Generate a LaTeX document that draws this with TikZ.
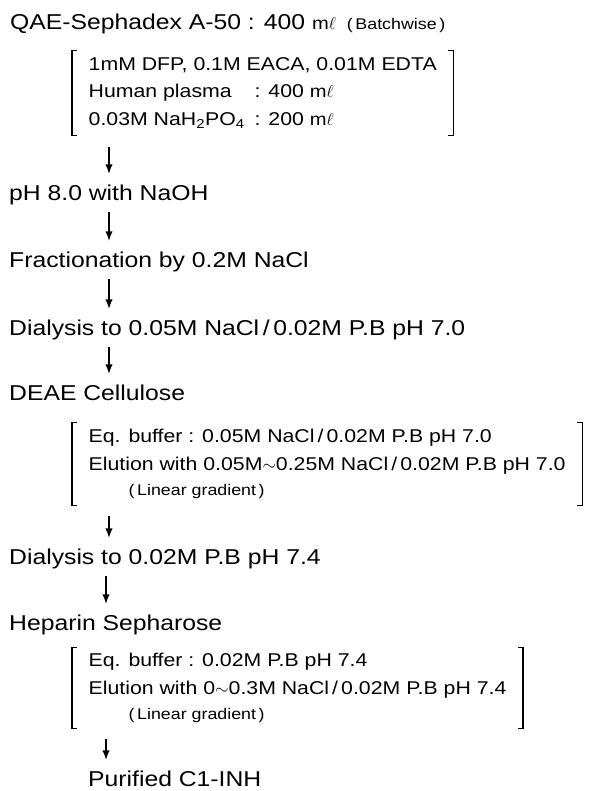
\documentclass[tikz,border=0pt]{standalone}
\usepackage{fontspec}
\setmainfont{Liberation Sans}[FakeStretch=1.15]
\usetikzlibrary{arrows.meta}
\newcommand{\smalltxt}{\fontsize{15.5}{18}\selectfont}
\newcommand{\mlunit}{{\fontsize{17.5}{18}\selectfont m$\ell$}}

\begin{document}
\begin{tikzpicture}[x=1pt, y=-1pt,
      stage/.style={anchor=west, inner sep=0pt, text height=15pt, text depth=0pt,
        font=\fontsize{21.5}{25}\selectfont},
      cond/.style={anchor=west, inner xsep=16.5pt, inner ysep=0pt, align=left,
        font=\fontsize{18.5}{27.5}\selectfont},
      brk/.style={line width=1.3pt},
      flow/.style={line width=2.2pt, -{Latex[length=10pt,width=7.5pt]},
        shorten <=11pt, shorten >=11pt}]
      \useasboundingbox (0,0) rectangle (596,791);
      \coordinate (ax) at (109,0);
      \coordinate (bx) at (106,0);
      \node[stage] (qae) at (10,22) {QAE-Sephadex A-50 : 400 \mlunit\hspace{11pt}{\smalltxt(\,Batchwise\,)}};
      \node[cond, minimum height=85pt] (b1) at (72,93) {1mM DFP, 0.1M EACA, 0.01M EDTA\\
        \makebox[166pt][l]{Human plasma}: 400 \mlunit\\
        \makebox[166pt][l]{0.03M NaH\textsubscript{2}PO\textsubscript{4}}: 200 \mlunit};
      \node[stage] (ph) at (9,193) {pH 8.0 with NaOH};
      \node[stage] (frac) at (9,260) {Fractionation by 0.2M NaCl};
      \node[stage] (dia1) at (9,328) {Dialysis to 0.05M NaCl\,/\,0.02M P.B pH 7.0};
      \node[stage] (deae) at (9,393) {DEAE Cellulose};
      \node[cond, minimum height=82pt] (b2) at (72,464) {Eq. buffer : 0.05M NaCl\,/\,0.02M P.B pH 7.0\\
        Elution with 0.05M$\sim$0.25M NaCl\,/\,0.02M P.B pH 7.0\\[-2pt]
        \hspace*{40pt}{\smalltxt(\,Linear gradient\,)}};
      \node[stage] (dia2) at (9,557) {Dialysis to 0.02M P.B pH 7.4};
      \node[stage] (hep) at (9,623) {Heparin Sepharose};
      \node[cond, minimum height=80pt] (b3) at (72,688) {Eq. buffer : 0.02M P.B pH 7.4\\
        Elution with 0$\sim$0.3M NaCl\,/\,0.02M P.B pH 7.4\\[-2pt]
        \hspace*{40pt}{\smalltxt(\,Linear gradient\,)}};
      \node[stage] (pur) at (88,779) {Purified C1-INH};
      \foreach \b in {b1,b2,b3}{
        \draw[brk] ([xshift=5pt]\b.north west) -- (\b.north west) -- (\b.south west) -- ++(5,0);
        \draw[brk] ([xshift=-5pt]\b.north east) -- (\b.north east) -- (\b.south east) -- ++(-5,0);
      }
      \draw[flow] (b1.south -| ax) -- (ph.north -| ax);
      \draw[flow] (ph.south -| ax) -- (frac.north -| ax);
      \draw[flow] (frac.south -| ax) -- (dia1.north -| ax);
      \draw[flow] (dia1.south -| ax) -- (deae.north -| ax);
      \draw[flow] (b2.south -| ax) -- (dia2.north -| ax);
      \draw[flow] (dia2.south -| bx) -- (hep.north -| bx);
      \draw[flow] (b3.south -| bx) -- (pur.north -| bx);
    \end{tikzpicture}
\end{document}
